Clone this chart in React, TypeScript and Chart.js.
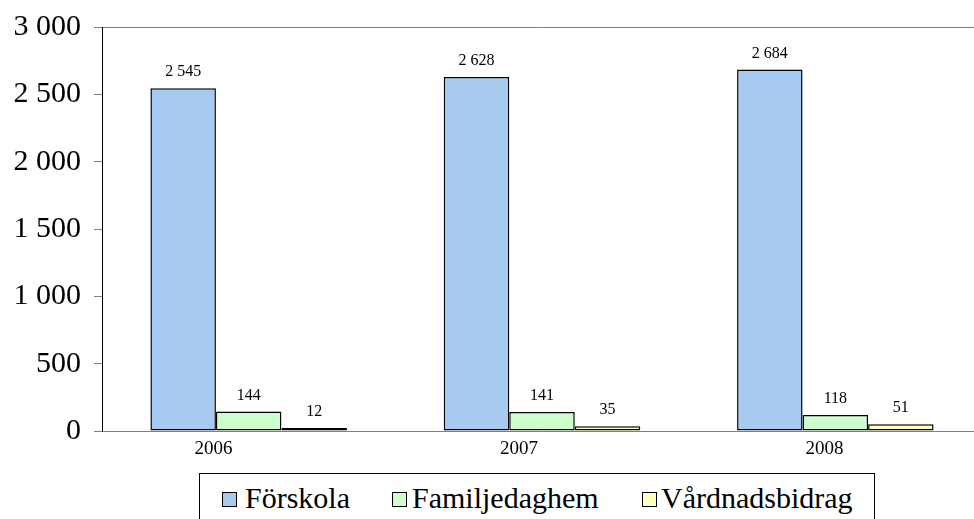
import React, { useEffect, useRef } from "react";
import { Chart, registerables } from "chart.js";

Chart.register(...registerables);

const years = ["2006", "2007", "2008"];
const forskola = [2545, 2628, 2684];
const familjedaghem = [144, 141, 118];
const vardnadsbidrag = [12, 35, 51];
const seriesNames = ["Förskola", "Familjedaghem", "Vårdnadsbidrag"];
const seriesColors = ["#A6CAF0", "#CCFFCC", "#FFFFC0"];
const yTicks = [0, 500, 1000, 1500, 2000, 2500, 3000];

const FONT = "'Liberation Serif', 'Times New Roman', serif";

function fmt(v: number): string {
  return String(v).replace(/\B(?=(\d{3})+(?!\d))/g, " ");
}

const valueLabels = {
  id: "valueLabels",
  afterDatasetsDraw(chart: any) {
    const ctx = chart.ctx;
    ctx.save();
    ctx.font = `16px ${FONT}`;
    ctx.fillStyle = "#000";
    ctx.textAlign = "center";
    ctx.textBaseline = "alphabetic";
    chart.data.datasets.forEach((ds: any, di: number) => {
      const meta = chart.getDatasetMeta(di);
      meta.data.forEach((el: any, i: number) => {
        ctx.fillText(fmt(ds.data[i]), el.x, el.y - 12);
      });
    });
    ctx.restore();
  },
};

const LABEL_MIN = -0.365;
const LABEL_MAX = 2.5155;

export default function App() {
  const ref = useRef<HTMLCanvasElement>(null);

  useEffect(() => {
    if (!ref.current) return;
    const datasets = [forskola, familjedaghem, vardnadsbidrag].map((d, i) => ({
      label: seriesNames[i],
      data: d,
      backgroundColor: seriesColors[i],
      borderColor: "#000",
      borderWidth: 1.5,
      borderSkipped: false,
      minBarLength: 3,
      categoryPercentage: 0.67,
      barPercentage: 1,
      xAxisID: "x",
      yAxisID: "y",
    }));
    const chart = new Chart(ref.current, {
      type: "bar",
      data: { labels: years, datasets },
      plugins: [valueLabels],
      options: {
        animation: false,
        responsive: true,
        maintainAspectRatio: false,
        layout: { autoPadding: false, padding: { top: 27, left: 0, right: 8, bottom: 0 } },
        plugins: {
          legend: { display: false },
          tooltip: { enabled: false },
        },
        scales: {
          x: {
            type: "category",
            display: false,
            offset: true,
          },
          xl: {
            type: "linear",
            position: "bottom",
            bounds: "data",
            offset: false,
            min: LABEL_MIN,
            max: LABEL_MAX,
            afterBuildTicks: (scale: any) => {
              scale.ticks = years.map((_, i) => ({ value: i }));
              scale.min = LABEL_MIN;
              scale.max = LABEL_MAX;
            },
            afterFit: (scale: any) => {
              scale.height = 88;
              scale.paddingLeft = 0;
              scale.paddingRight = 0;
            },
            grid: { display: false, drawTicks: false, offset: false },
            border: { display: true, color: "#808080", width: 1 },
            ticks: {
              autoSkip: false,
              maxRotation: 0,
              padding: 7,
              color: "#000",
              font: { family: FONT, size: 19 },
              callback: (v: any) => years[v] ?? "",
            },
          },
          y: {
            min: 0,
            max: 3000,
            afterBuildTicks: (scale: any) => {
              scale.ticks = yTicks.map((v) => ({ value: v }));
            },
            afterFit: (scale: any) => {
              scale.width = 102;
              scale.paddingTop = 0;
              scale.paddingBottom = 0;
            },
            grid: {
              color: (c: any) => (c.tick && c.tick.value === 3000 ? "#808080" : "rgba(0,0,0,0)"),
              tickColor: "#808080",
              tickLength: 8,
              drawTicks: true,
            },
            border: { display: true, color: "#000", width: 1 },
            ticks: {
              padding: 13,
              color: "#000",
              font: { family: FONT, size: 30 },
              callback: (v: any) => fmt(Number(v)),
            },
          },
        },
      } as any,
    });
    return () => chart.destroy();
  }, []);

  const legendLeft = [22, 192, 442];
  const textLeft = [45, 212, 461];

  return (
    <div
      style={{
        position: "absolute",
        left: 0,
        top: 0,
        width: 974,
        height: 519,
        overflow: "hidden",
        background: "#fff",
      }}
    >
      <div style={{ position: "absolute", left: 0, top: 0, width: 990, height: 519 }}>
        <canvas ref={ref} />
      </div>
      <div
        style={{
          position: "absolute",
          left: 199,
          top: 473,
          width: 676,
          height: 70,
          border: "1px solid #000",
          boxSizing: "border-box",
          background: "#fff",
        }}
      >
        {seriesNames.map((n, i) => (
          <React.Fragment key={n}>
            <div
              style={{
                position: "absolute",
                left: legendLeft[i],
                top: 18,
                width: 15,
                height: 15,
                background: seriesColors[i],
                border: "1.5px solid #000",
                boxSizing: "border-box",
              }}
            />
            <span
              style={{
                position: "absolute",
                left: textLeft[i],
                top: 9,
                fontFamily: FONT,
                fontSize: 30,
                lineHeight: "30px",
                whiteSpace: "nowrap",
                color: "#000",
              }}
            >
              {n}
            </span>
          </React.Fragment>
        ))}
      </div>
    </div>
  );
}
